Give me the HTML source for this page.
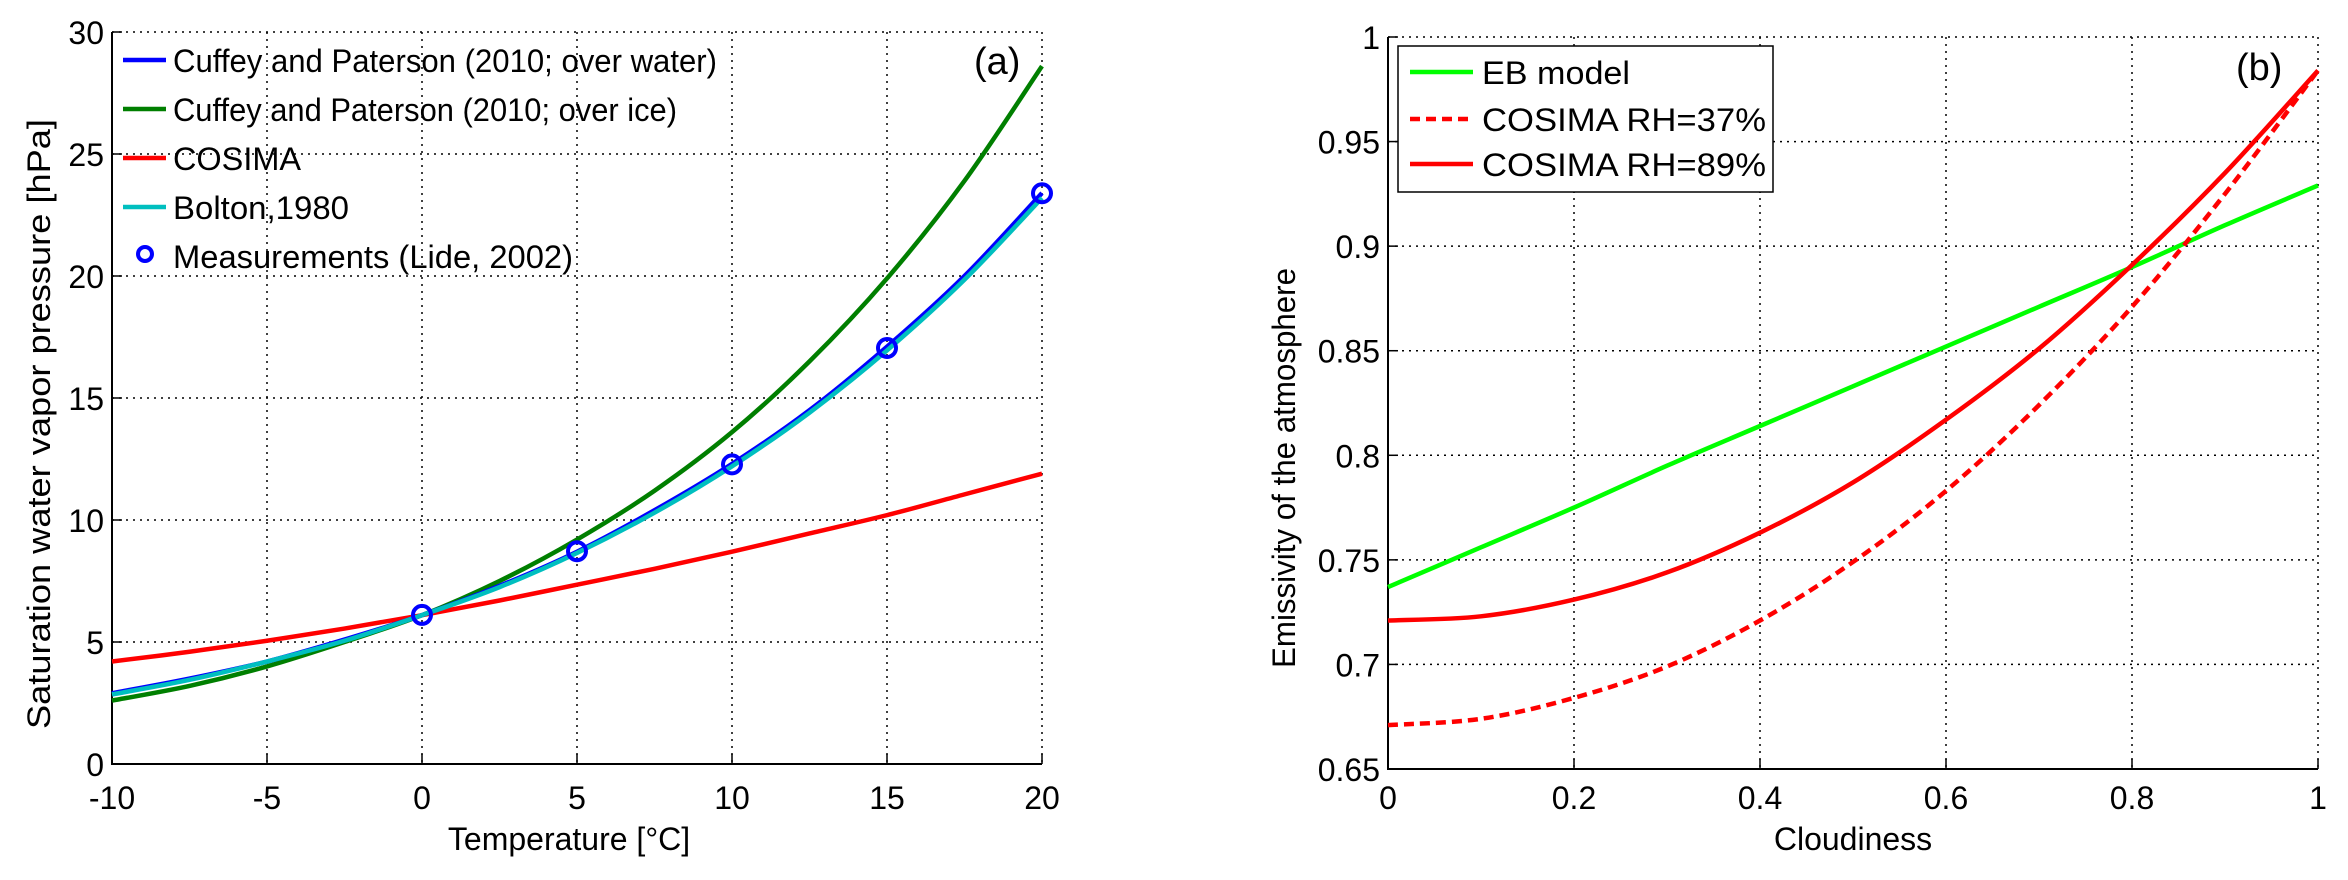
<!DOCTYPE html>
<html><head><meta charset="utf-8"><style>
html,body{margin:0;padding:0;background:#fff;}
svg{display:block;font-family:"Liberation Sans",Arial,sans-serif;}
</style></head><body>
<svg id="fig" width="2348" height="880" viewBox="0 0 2348 880" xmlns="http://www.w3.org/2000/svg">
<g id="pa"></g>
<g id="pb"></g>
</svg>
<script>
// ---- Panel (a) data ----
const tempX = [-10,-7.5,-5,-2.5,0,2.5,5,7.5,10,12.5,15,17.5,20];
const waterY = [2.9,3.5,4.2,5.1,6.1,7.3,8.7,10.4,12.3,14.5,17.1,20.0,23.4];
const iceY = [2.6,3.2,4.0,5.0,6.1,7.5,9.2,11.2,13.6,16.5,19.9,23.9,28.6];
const cosimaY = [4.2,4.6,5.05,5.55,6.1,6.7,7.35,8.0,8.7,9.45,10.2,11.05,11.9];
const boltonY = [2.85,3.45,4.2,5.05,6.1,7.25,8.65,10.3,12.2,14.4,16.95,19.85,23.2];
const measX = [0,5,10,15,20];
const measY = [6.11,8.72,12.28,17.05,23.39];
const aXTicks = [-10,-5,0,5,10,15,20];
const aYTicks = [0,5,10,15,20,25,30];
// ---- Panel (b) data ----
const cloudX = [0,0.1,0.2,0.3,0.4,0.5,0.6,0.7,0.8,0.9,1];
const ebY = [0.737,0.756,0.775,0.795,0.814,0.833,0.852,0.871,0.890,0.910,0.929];
const rh37Y = [0.671,0.674,0.684,0.699,0.721,0.749,0.783,0.824,0.871,0.925,0.984];
const rh89Y = [0.721,0.723,0.731,0.744,0.763,0.787,0.817,0.851,0.891,0.935,0.984];
const bXTicks = [0,0.2,0.4,0.6,0.8,1];
const bXLabels = ["0","0.2","0.4","0.6","0.8","1"];
const bYTicks = [0.65,0.7,0.75,0.8,0.85,0.9,0.95,1];
const bYLabels = ["0.65","0.7","0.75","0.8","0.85","0.9","0.95","1"];

const NS="http://www.w3.org/2000/svg";
function mk(parent,tag,attrs,text){const e=document.createElementNS(NS,tag);for(const k in attrs)e.setAttribute(k,attrs[k]);if(text!==undefined)e.textContent=text;parent.appendChild(e);return e;}
function lin(d0,d1,r0,r1){return v=>r0+(v-d0)/(d1-d0)*(r1-r0);}
function smoothPath(pts){let d="M"+pts[0][0]+","+pts[0][1];for(let i=0;i<pts.length-1;i++){const p0=pts[Math.max(0,i-1)],p1=pts[i],p2=pts[i+1],p3=pts[Math.min(pts.length-1,i+2)];const c1x=p1[0]+(p2[0]-p0[0])/6,c1y=p1[1]+(p2[1]-p0[1])/6,c2x=p2[0]-(p3[0]-p1[0])/6,c2y=p2[1]-(p3[1]-p1[1])/6;d+=" C"+c1x+","+c1y+" "+c2x+","+c2y+" "+p2[0]+","+p2[1];}return d;}

function axes(g,L,R,T,B,xs,ys,xT,xL,yT,yL){
  const grid=mk(g,"g",{});
  
  
  xT.forEach((v,i)=>{const x=xs(v);
    if(i>0&&i<xT.length-1){const l=mk(grid,"line",{x1:x,y1:T,x2:x,y2:B,stroke:"#000","stroke-width":1.5,"stroke-dasharray":"2,5"});}
    const t=mk(g,"text",{x:x,y:809,"font-size":32,"text-anchor":"middle",fill:"#000"},xL[i]);
    
    
    mk(g,"line",{x1:x,y1:B,x2:x,y2:B-10,stroke:"#000","stroke-width":1.5});
  });
  yT.forEach((v,i)=>{const y=ys(v);
    if(i>0&&i<yT.length-1){const l=mk(grid,"line",{x1:L,y1:y,x2:R,y2:y,stroke:"#000","stroke-width":1.5,"stroke-dasharray":"2,5"});}
    const t=mk(g,"text",{x:L-8,y:y+12,"font-size":32,"text-anchor":"end",fill:"#000"},yL[i]);
    
    
    mk(g,"line",{x1:L,y1:y,x2:L+10,y2:y,stroke:"#000","stroke-width":1.5});
  });
  mk(g,"line",{x1:L,y1:T,x2:R,y2:T,stroke:"#000","stroke-width":1.5,"stroke-dasharray":"2,5"});
  mk(g,"line",{x1:R,y1:T,x2:R,y2:B,stroke:"#000","stroke-width":1.5,"stroke-dasharray":"2,5"});
  const ax=mk(g,"path",{d:`M${L},${T}V${B}H${R}`,fill:"none",stroke:"#000","stroke-width":2});
  
  
}
function series(g,xs,ys,X,Y,color,name,dash){
  const p=mk(g,"path",{d:smoothPath(X.map((v,i)=>[xs(v),ys(Y[i])])),fill:"none",stroke:color,"stroke-width":4.5,"stroke-linejoin":"round"});
  if(dash)p.setAttribute("stroke-dasharray",dash);
  
  
}

// Panel a
(function(){
  const g=document.getElementById("pa");
  const L=112,R=1042,T=32,B=764;
  const xs=lin(-10,20,L,R), ys=lin(0,30,B,T);
  axes(g,L,R,T,B,xs,ys,aXTicks,aXTicks.map(String),aYTicks,aYTicks.map(String));
  series(g,xs,ys,tempX,cosimaY,"#ff0000","line-cosima");
  series(g,xs,ys,tempX,iceY,"#007f00","line-over-ice");
  series(g,xs,ys,tempX,waterY,"#0000ff","line-over-water");
  series(g,xs,ys,tempX,boltonY,"#00bfbf","line-bolton");
  measX.forEach((v,i)=>{const c=mk(g,"circle",{cx:xs(v),cy:ys(measY[i]),r:9,fill:"none",stroke:"#0000ff","stroke-width":4});
    
    });
  const leg=mk(g,"g",{});
  
  
  const items=[["#0000ff","Cuffey and Paterson (2010; over water)",544],["#007f00","Cuffey and Paterson (2010; over ice)",504],["#ff0000","COSIMA",128],["#00bfbf","Bolton,1980",176],["#0000ff","Measurements (Lide, 2002)",400]];
  items.forEach((it,i)=>{const y=60+i*49;
    if(i<4)mk(leg,"line",{x1:123,y1:y,x2:166,y2:y,stroke:it[0],"stroke-width":4.5});
    else mk(leg,"circle",{cx:145,cy:y-2,r:7,fill:"none",stroke:it[0],"stroke-width":4});
    const t=mk(leg,"text",{x:173,y:y+12,"font-size":32,textLength:it[2],lengthAdjust:"spacingAndGlyphs"},it[1]);
    
    });
  const pl=mk(g,"text",{x:974,y:74,"font-size":38},"(a)");
  
  
  const xl=mk(g,"text",{x:569,y:850,"font-size":32,"text-anchor":"middle"},"Temperature [°C]");
  
  
  const yl=mk(g,"text",{x:0,y:0,"font-size":32,"text-anchor":"middle",transform:"translate(50,424) rotate(-90)",textLength:610,lengthAdjust:"spacingAndGlyphs"},"Saturation water vapor pressure  [hPa]");
  
  
})();

// Panel b
(function(){
  const g=document.getElementById("pb");
  const L=1388,R=2318,T=37,B=769;
  const xs=lin(0,1,L,R), ys=lin(0.65,1,B,T);
  axes(g,L,R,T,B,xs,ys,bXTicks,bXLabels,bYTicks,bYLabels);
  series(g,xs,ys,cloudX,ebY,"#00ff00","line-eb-model");
  series(g,xs,ys,cloudX,rh37Y,"#ff0000","line-cosima-rh37","10,6");
  series(g,xs,ys,cloudX,rh89Y,"#ff0000","line-cosima-rh89");
  const leg=mk(g,"g",{});
  
  
  mk(leg,"rect",{x:1398,y:46,width:375,height:146,fill:"#fff",stroke:"#000","stroke-width":1.5});
  const items=[["#00ff00","EB model",null,148],["#ff0000","COSIMA RH=37%","10,6",284],["#ff0000","COSIMA RH=89%",null,284]];
  items.forEach((it,i)=>{const y=[72,119,164][i];
    const l=mk(leg,"line",{x1:1410,y1:y,x2:1473,y2:y,stroke:it[0],"stroke-width":4.5});
    if(it[2])l.setAttribute("stroke-dasharray",it[2]);
    const t=mk(leg,"text",{x:1482,y:y+12,"font-size":32,textLength:it[3],lengthAdjust:"spacingAndGlyphs"},it[1]);
    
    });
  const pl=mk(g,"text",{x:2236,y:80,"font-size":38},"(b)");
  
  
  const xl=mk(g,"text",{x:1853,y:850,"font-size":32,"text-anchor":"middle"},"Cloudiness");
  
  
  const yl=mk(g,"text",{x:0,y:0,"font-size":32,"text-anchor":"middle",transform:"translate(1295,468) rotate(-90)",textLength:400,lengthAdjust:"spacingAndGlyphs"},"Emissivity of the atmosphere");
  
  
})();
</script>
</body></html>
